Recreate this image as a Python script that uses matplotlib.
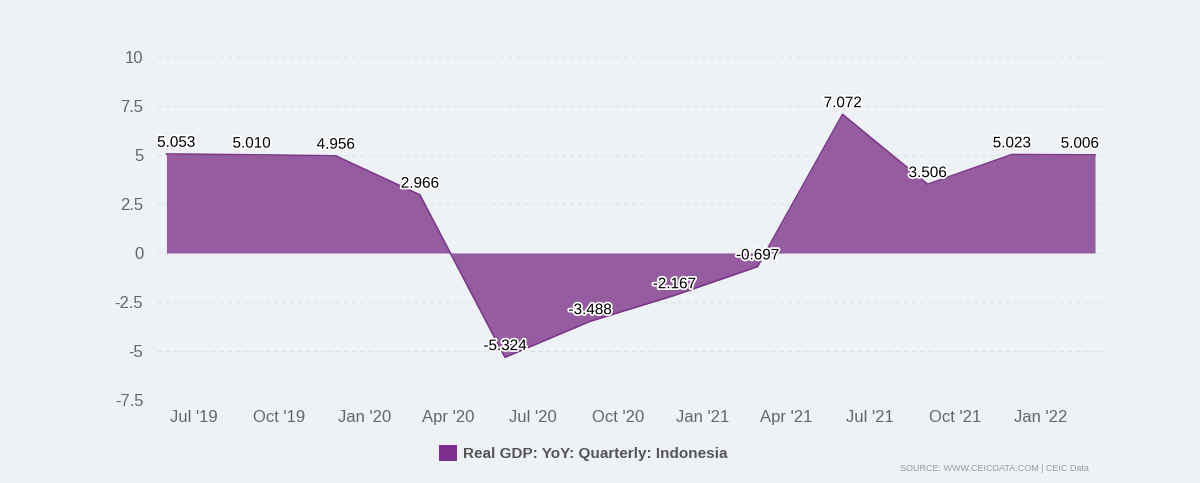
import matplotlib
matplotlib.use("Agg")
import matplotlib.pyplot as plt
import matplotlib.dates as mdates
import matplotlib.patheffects as pe
from matplotlib.patches import Patch
from matplotlib.ticker import FuncFormatter
import pandas as pd

# quarterly real GDP growth, Indonesia (% YoY)
dates = pd.to_datetime(["2019-06-01", "2019-09-01", "2019-12-01", "2020-03-01",
                        "2020-06-01", "2020-09-01", "2020-12-01", "2021-03-01",
                        "2021-06-01", "2021-09-01", "2021-12-01", "2022-03-01"])
values = [5.053, 5.010, 4.956, 2.966, -5.324, -3.488, -2.167, -0.697,
          7.072, 3.506, 5.023, 5.006]
labels = ["5.053", "5.010", "4.956", "2.966", "-5.324", "-3.488", "-2.167", "-0.697",
          "7.072", "3.506", "5.023", "5.006"]
series_name = "Real GDP: YoY: Quarterly: Indonesia"

bg = "#eef2f7"
fill_c = "#955da0"
line_c = "#7c3a88"

plt.rcParams["font.family"] = ["Liberation Sans", "DejaVu Sans"]

fig = plt.figure(figsize=(12, 4.83), dpi=100, facecolor=bg)
ax = fig.add_axes([0.131, 0.172, 0.79, 0.71], facecolor=bg)

ax.fill_between(dates, values, 0, color=fill_c, linewidth=0)
ax.plot(dates, values, color=line_c, linewidth=1.2)

for i, (d, v, t) in enumerate(zip(dates, values, labels)):
    dx = 0
    if i == 0:
        dx = 7
    elif i == len(values) - 1:
        dx = -11
    ax.annotate(t, (d, v), xytext=(dx, 3), textcoords="offset points",
                ha="center", va="bottom", fontsize=11, color="black",
                path_effects=[pe.withStroke(linewidth=2.5, foreground="white")])

ax.set_ylim(-7.5, 10)
ax.set_yticks([-7.5, -5, -2.5, 0, 2.5, 5, 7.5, 10])
ax.yaxis.set_major_formatter(FuncFormatter(lambda v, p: f"{v:g}"))
ax.set_xlim(pd.Timestamp("2019-05-22"), pd.Timestamp("2022-03-12"))
ax.xaxis.set_major_locator(mdates.MonthLocator(bymonth=[1, 4, 7, 10]))
ax.xaxis.set_major_formatter(mdates.DateFormatter("%b '%y"))

ax.grid(axis="y", color="#dbe1e8", linestyle=(0, (4, 3)), linewidth=0.8)
ax.set_axisbelow(True)
for s in ax.spines.values():
    s.set_visible(False)
ax.tick_params(axis="both", length=0, labelsize=12, labelcolor="#666666")
ax.tick_params(axis="x", pad=7)
ax.tick_params(axis="y", pad=10)

fig.legend(handles=[Patch(facecolor="#7e2e8c", edgecolor="none")], labels=[series_name],
           loc="center", bbox_to_anchor=(0.486, 0.062), frameon=False,
           handlelength=1.2, handleheight=1.2, handletextpad=0.4,
           prop={"size": 11, "weight": "bold"}, labelcolor="#555555")

fig.text(0.907, 0.029, "SOURCE: WWW.CEICDATA.COM | CEIC Data", ha="right", va="center",
         fontsize=6.5, color="#999999")

fig.savefig("out.png", dpi=100, facecolor=bg)
